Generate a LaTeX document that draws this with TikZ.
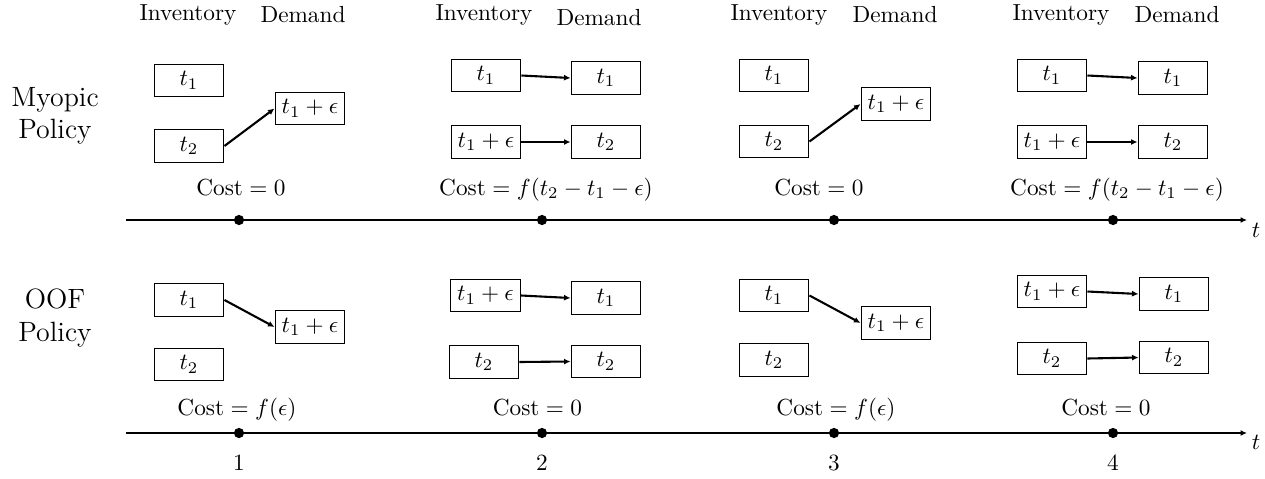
\documentclass[tikz,border=0pt]{standalone}
\usepackage{amsmath,amssymb}
\usepackage{tikz}
\usetikzlibrary{arrows.meta}
\tikzset{
  cell/.style ={draw, line width=0.5pt, minimum width=30pt, minimum height=14pt, inner sep=1pt},
  mv/.style   ={-{Latex[length=2.8pt,width=2.6pt]}, line width=0.9pt},
  tl/.style   ={-{Latex[length=2.8pt,width=2.6pt]}, line width=0.9pt},
  tdot/.style ={circle, fill, inner sep=0pt, minimum size=4.4pt},
  cst/.style  ={anchor=base},
}
\begin{document}
\begin{tikzpicture}[x=0.43pt,y=-0.43pt]
\useasboundingbox (0,0) rectangle (1265,478);
\def\yA{220} \def\yB{433}

% row labels
\node[align=center,font=\large] (myo) at (55,116) {Myopic\\Policy};
\node[align=center,font=\large] (oof) at (55,318) {OOF\\Policy};

% column heads
\node (hInvA) at (188,15) {Inventory};  \node (hDemA) at (303,15) {Demand};
\node (hInvB) at (484,15) {Inventory};  \node (hDemB) at (599,18) {Demand};
\node (hInvC) at (779,15) {Inventory};  \node (hDemC) at (895,15) {Demand};
\node (hInvD) at (1061,15) {Inventory}; \node (hDemD) at (1177,15) {Demand};

% time axes
\coordinate (tA0) at (126,\yA); \coordinate (tA1) at (1247,\yA);
\coordinate (tB0) at (126,\yB); \coordinate (tB1) at (1247,\yB);
\draw[tl] (tA0) -- (tA1);
\draw[tl] (tB0) -- (tB1);
\node (tAl) at (1256,230) {$t$};
\node (tBl) at (1256,442) {$t$};
\foreach \x [count=\i] in {239,542,834,1113} {
  \node[tdot] (dA\i) at (\x,\yA) {};
  \node[tdot] (dB\i) at (\x,\yB) {};
  \node (n\i) at (\x,463) {\i};
}

% myopic, step 1
\node[cell] (mA1) at (189,80.5) {$t_1$};
\node[cell] (mA2) at (189,146) {$t_2$};
\node[cell] (mAd) at (310,108.5) {$t_1+\epsilon$};
\draw[mv] (mA2.east) -- (mAd.west);
\node[cst] (mAc) at (241,195) {$\mathrm{Cost} = 0$};

% myopic, step 2
\node[cell] (mB1) at (486,75.5) {$t_1$};
\node[cell] (mB2) at (486,142) {$t_1+\epsilon$};
\node[cell] (mBd1) at (606,78) {$t_1$};
\node[cell] (mBd2) at (606,142) {$t_2$};
\draw[mv] (mB1.east) -- (mBd1.west);
\draw[mv] (mB2.east) -- (mBd2.west);
\node[cst] (mBc) at (546,195) {$\mathrm{Cost} = f(t_2-t_1-\epsilon)$};

% myopic, step 3
\node[cell] (mC1) at (774,75.5) {$t_1$};
\node[cell] (mC2) at (774,141.5) {$t_2$};
\node[cell] (mCd) at (896,104) {$t_1+\epsilon$};
\draw[mv] (mC2.east) -- (mCd.west);
\node[cst] (mCc) at (819,195) {$\mathrm{Cost} = 0$};

% myopic, step 4
\node[cell] (mD1) at (1052,75.5) {$t_1$};
\node[cell] (mD2) at (1052,142) {$t_1+\epsilon$};
\node[cell] (mDd1) at (1173,78) {$t_1$};
\node[cell] (mDd2) at (1173,142) {$t_2$};
\draw[mv] (mD1.east) -- (mDd1.west);
\draw[mv] (mD2.east) -- (mDd2.west);
\node[cst] (mDc) at (1117,195) {$\mathrm{Cost} = f(t_2-t_1-\epsilon)$};

% OOF, step 1
\node[cell] (oA1) at (189,300) {$t_1$};
\node[cell] (oA2) at (189,364.5) {$t_2$};
\node[cell] (oAd) at (310,327) {$t_1+\epsilon$};
\draw[mv] (oA1.east) -- (oAd.west);
\node[cst] (oAc) at (237,415) {$\mathrm{Cost} = f(\epsilon)$};

% OOF, step 2
\node[cell] (oB1) at (485.5,295.5) {$t_1+\epsilon$};
\node[cell] (oB2) at (484,362) {$t_2$};
\node[cell] (oBd1) at (606,298) {$t_1$};
\node[cell] (oBd2) at (606,361.5) {$t_2$};
\draw[mv] (oB1.east) -- (oBd1.west);
\draw[mv] (oB2.east) -- (oBd2.west);
\node[cst] (oBc) at (537.5,415) {$\mathrm{Cost} = 0$};

% OOF, step 3
\node[cell] (oC1) at (774,295.5) {$t_1$};
\node[cell] (oC2) at (774,360) {$t_2$};
\node[cell] (oCd) at (896,323) {$t_1+\epsilon$};
\draw[mv] (oC1.east) -- (oCd.west);
\node[cst] (oCc) at (836,415) {$\mathrm{Cost} = f(\epsilon)$};

% OOF, step 4
\node[cell] (oD1) at (1052,291.5) {$t_1+\epsilon$};
\node[cell] (oD2) at (1052,358.5) {$t_2$};
\node[cell] (oDd1) at (1174,294) {$t_1$};
\node[cell] (oDd2) at (1174,357.5) {$t_2$};
\draw[mv] (oD1.east) -- (oDd1.west);
\draw[mv] (oD2.east) -- (oDd2.west);
\node[cst] (oDc) at (1106,415) {$\mathrm{Cost} = 0$};
\end{tikzpicture}
\end{document}
